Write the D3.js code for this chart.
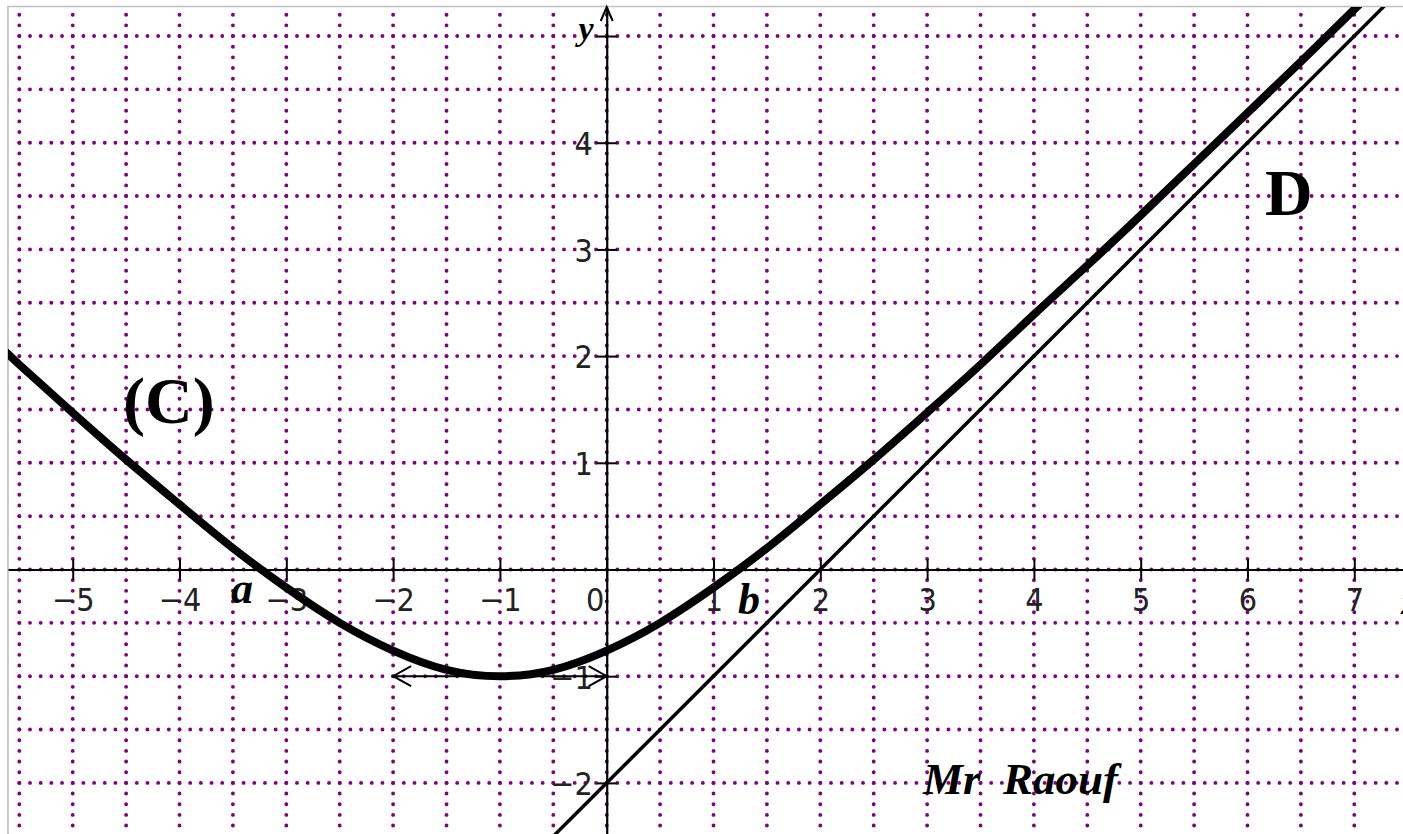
<!DOCTYPE html>
<html>
<head>
<meta charset="utf-8">
<script src="https://cdnjs.cloudflare.com/ajax/libs/d3/7.8.5/d3.min.js"></script>
<style>
body{margin:0;background:#fff;overflow:hidden}
svg{display:block}
.tick text{font-family:'DejaVu Sans Condensed','DejaVu Sans',sans-serif;font-weight:200;font-size:32px;fill:#222}
.tick text.serif, .serif{font-family:'Liberation Serif','Times New Roman',serif;font-weight:bold;fill:#000}
</style>
</head>
<body>
<svg class="chart"></svg>
<script>
var width = 1403,
	height = 834,
	padLeft = 8,
	padTop = 7;

// curve (C)
var curveX = [-5.7,-5.5,-5,-4.5,-4,-3.5,-3,-2.5,-2,-1.5,-1,-0.5,0,0.5,1,1.5,2,2.5,3,3.5,4,4.5,5,5.5,6,6.5,7,7.5];
var curveY = [2.11,1.92,1.47,1.03,0.61,0.2,-0.17,-0.5,-0.76,-0.94,-1,-0.94,-0.76,-0.5,-0.17,0.2,0.61,1.03,1.47,1.92,2.39,2.85,3.32,3.8,4.28,4.76,5.25,5.73];

// asymptote D
var asymX = [-0.6, 7.6];
var asymY = [-2.6, 5.6];

// horizontal tangent at the minimum
var tanX = [-2, 0];
var tanY = [-1, -1];

// ticks
var xTicks = [-5,-4,-3,-2,-1,0,1,2,3,4,5,6,7];
var xTickLabels = ['−5','−4','−3','−2','−1','0','1','2','3','4','5','6','7'];
var yTicks = [-2,-1,1,2,3,4,5];
var yTickLabels = ['−2','−1','1','2','3','4','y'];

// grid every half unit
var gridX = d3.range(-5.5, 7.01, 0.5);
var gridY = d3.range(-2, 5.01, 0.5);

//Scales
var xScale = d3.scaleLinear()
			.domain([-5.606, 7.456])
			.range([padLeft, width]);

var yScale = d3.scaleLinear()
			.domain([-2.479, 5.272])
			.range([height, padTop]);

var xStep = xScale(0.1) - xScale(0),
	yStep = yScale(0) - yScale(0.1);

var chart = d3.select('.chart')
			.attr('width', width)
			.attr('height', height);

chart.append('defs').append('clipPath')
	.attr('id', 'plot')
	.append('rect')
	.attr('x', padLeft)
	.attr('y', padTop)
	.attr('width', width - padLeft)
	.attr('height', height - padTop);

//Dotted grid
var grid = chart.append('g')
			.attr('stroke', '#800080')
			.attr('stroke-width', 3.9)
			.attr('stroke-linecap', 'round');

grid.selectAll('.gx')
	.data(gridX)
	.enter()
	.append('line')
	.attr('x1', d => xScale(d))
	.attr('x2', d => xScale(d))
	.attr('y1', yScale(5.2))
	.attr('y2', yScale(-2.5))
	.attr('stroke-dasharray', '0,' + yStep);

grid.selectAll('.gy')
	.data(gridY)
	.enter()
	.append('line')
	.attr('y1', d => yScale(d))
	.attr('y2', d => yScale(d))
	.attr('x1', xScale(-5.5))
	.attr('x2', xScale(7.5))
	.attr('stroke-dasharray', '0,' + xStep);

//Frame
chart.append('path')
	.attr('d', 'M' + padLeft + ',' + height + 'V' + (padTop - 0.5) + 'H' + width)
	.attr('fill', 'none')
	.attr('stroke', '#c0c0c0')
	.attr('stroke-width', 1.6);

//Axes
var xAxis = chart.append('g')
	.attr('transform', 'translate(0,' + yScale(0) + ')')
	.call(d3.axisBottom(xScale)
		.tickValues(xTicks)
		.tickSize(10)
		.tickSizeOuter(0)
		.tickFormat((d, i) => xTickLabels[i]));

xAxis.select('.domain').attr('stroke-width', 2.2);
xAxis.selectAll('.tick line').attr('y1', -10).attr('stroke-width', 2);
xAxis.selectAll('.tick text')
	.attr('y', 41)
	.attr('dy', 0)
	.attr('x', d => d === 0 ? -12 : 0);

var yAxis = chart.append('g')
	.attr('transform', 'translate(' + xScale(0) + ',0)')
	.call(d3.axisLeft(yScale)
		.tickValues(yTicks)
		.tickSize(10)
		.tickSizeOuter(0)
		.tickFormat((d, i) => yTickLabels[i]));

yAxis.select('.domain').attr('stroke-width', 2.2);
yAxis.selectAll('.tick line').attr('x1', 10).attr('stroke-width', 2);
yAxis.selectAll('.tick text')
	.attr('x', -14)
	.attr('dy', '0.37em');

// the y name sits on the last tick
yAxis.selectAll('.tick text')
	.filter(d => d === 5)
	.attr('class', 'serif')
	.attr('font-style', 'italic')
	.style('font-size', '34px')
	.attr('dy', 3)
	.attr('x', -13);

// y arrow head
chart.append('path')
	.attr('d', 'M' + (xScale(0) - 6) + ',' + (padTop + 14) + 'L' + xScale(0) + ',' + padTop + 'L' + (xScale(0) + 6) + ',' + (padTop + 14))
	.attr('fill', 'none')
	.attr('stroke', '#000')
	.attr('stroke-width', 2);

// x name, nearly off the page
chart.append('text')
	.attr('class', 'serif')
	.attr('font-style', 'italic')
	.attr('font-size', 34)
	.attr('x', 1401)
	.attr('y', 614)
	.text('x');

//Labels
chart.append('text')
	.attr('class', 'serif')
	.attr('font-size', 66)
	.attr('x', 123)
	.attr('y', 423)
	.text('(C)');

chart.append('text')
	.attr('class', 'serif')
	.attr('font-size', 66)
	.attr('x', 1265)
	.attr('y', 215)
	.text('D');

chart.append('text')
	.attr('class', 'serif')
	.attr('font-style', 'italic')
	.attr('font-size', 44)
	.attr('x', 231)
	.attr('y', 603)
	.text('a');

chart.append('text')
	.attr('class', 'serif')
	.attr('font-style', 'italic')
	.attr('font-size', 44)
	.attr('x', 738)
	.attr('y', 614)
	.text('b');

chart.append('text')
	.attr('class', 'serif')
	.attr('font-style', 'italic')
	.attr('font-size', 45)
	.attr('x', 923)
	.attr('y', 794)
	.style('white-space', 'pre')
	.text('Mr  Raouf');

//Curves
var plot = chart.append('g').attr('clip-path', 'url(#plot)');

var line = d3.line()
			.x(d => xScale(d[0]))
			.y(d => yScale(d[1]));

plot.append('path')
	.datum(d3.zip(asymX, asymY))
	.attr('d', line)
	.attr('fill', 'none')
	.attr('stroke', '#000')
	.attr('stroke-width', 3.5);

// tangent with arrows at both ends
var tx0 = xScale(tanX[0]), tx1 = xScale(tanX[1]), ty = yScale(tanY[0]);
plot.append('path')
	.attr('d', 'M' + tx0 + ',' + ty + 'H' + tx1 +
		'M' + (tx0 + 18) + ',' + (ty - 10) + 'L' + tx0 + ',' + ty + 'L' + (tx0 + 18) + ',' + (ty + 10) +
		'M' + (tx1 - 18) + ',' + (ty - 10) + 'L' + tx1 + ',' + ty + 'L' + (tx1 - 18) + ',' + (ty + 10))
	.attr('fill', 'none')
	.attr('stroke', '#000')
	.attr('stroke-width', 2);

plot.append('path')
	.datum(d3.zip(curveX, curveY))
	.attr('d', line.curve(d3.curveNatural))
	.attr('fill', 'none')
	.attr('stroke', '#000')
	.attr('stroke-width', 8);
</script>
</body>
</html>
